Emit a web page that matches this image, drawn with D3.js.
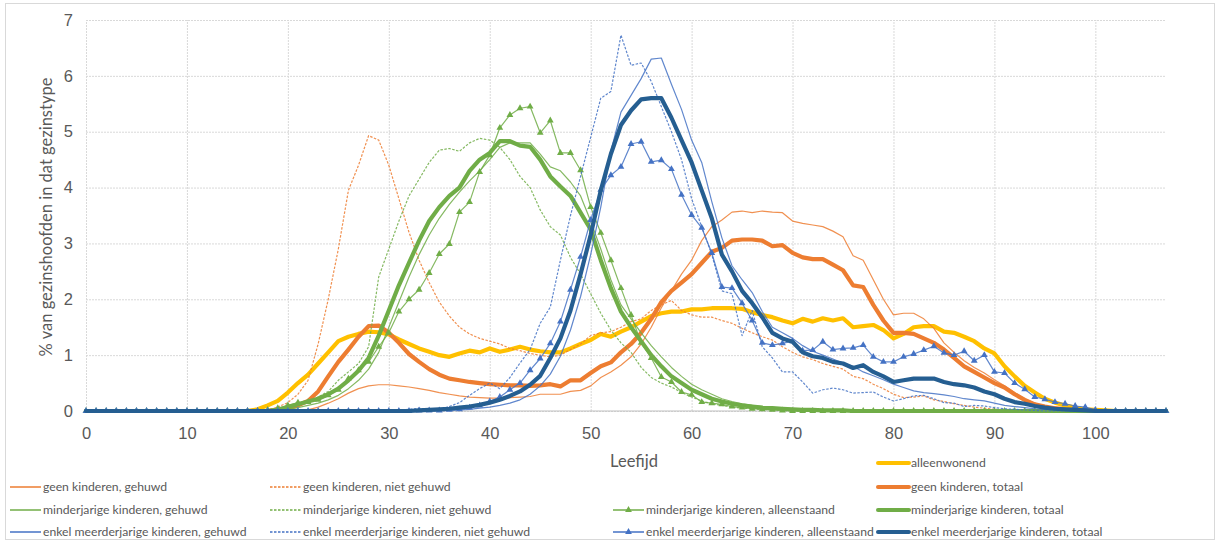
<!DOCTYPE html>
<html><head><meta charset="utf-8">
<script src="https://cdn.jsdelivr.net/npm/d3@7"></script>
<style>
body{margin:0;background:#fff;}
svg{display:block;font-family:Lato,"Liberation Sans",sans-serif;}
</style>
</head><body>
<svg id="chart" width="1220" height="543"></svg>
<script>
// ---------- data ----------
const ages = [0,1,2,3,4,5,6,7,8,9,10,11,12,13,14,15,16,17,18,19,20,21,22,23,24,25,26,27,28,29,30,31,32,33,34,35,36,37,38,39,40,41,42,43,44,45,46,47,48,49,50,51,52,53,54,55,56,57,58,59,60,61,62,63,64,65,66,67,68,69,70,71,72,73,74,75,76,77,78,79,80,81,82,83,84,85,86,87,88,89,90,91,92,93,94,95,96,97,98,99,100,101,102,103,104,105,106,107];
const xTicks = [0,10,20,30,40,50,60,70,80,90,100];
const yTicks = [0,1,2,3,4,5,6,7];

const alleenwonend = [
0,0,0,0,0,0,0,0,0,0,
0,0,0,0,0,0,0,0.03,0.1,0.18,
0.33,0.5,0.65,0.85,1.05,1.25,1.33,1.38,1.42,1.41,
1.37,1.28,1.2,1.12,1.06,1.0,0.97,1.03,1.08,1.05,
1.12,1.06,1.1,1.15,1.1,1.07,1.05,1.05,1.12,1.2,
1.27,1.38,1.33,1.42,1.5,1.6,1.7,1.75,1.78,1.78,
1.82,1.82,1.84,1.84,1.84,1.83,1.77,1.72,1.68,1.62,
1.57,1.65,1.6,1.66,1.62,1.66,1.5,1.52,1.54,1.45,
1.3,1.38,1.5,1.52,1.52,1.42,1.4,1.33,1.25,1.12,
1.03,0.8,0.62,0.45,0.33,0.22,0.15,0.1,0.06,0.03,
0.02,0.01,0,0,0,0,0,0];

const geenGehuwd = [
0,0,0,0,0,0,0,0,0,0,
0,0,0,0,0,0,0,0,0,0,
0,0,0.02,0.07,0.14,0.22,0.32,0.4,0.45,0.47,
0.47,0.45,0.43,0.4,0.37,0.33,0.3,0.27,0.25,0.24,
0.23,0.23,0.24,0.25,0.26,0.3,0.3,0.3,0.35,0.37,
0.45,0.6,0.7,0.82,0.97,1.2,1.5,1.85,2.15,2.45,
2.7,3.05,3.3,3.42,3.56,3.58,3.55,3.58,3.56,3.55,
3.4,3.36,3.33,3.3,3.22,3.12,2.78,2.7,2.35,2.0,
1.72,1.75,1.75,1.65,1.48,1.22,1.05,0.9,0.78,0.68,
0.56,0.45,0.33,0.22,0.14,0.08,0.05,0.02,0.01,0,
0,0,0,0,0,0,0,0];

const geenNietGehuwd = [
0,0,0,0,0,0,0,0,0,0,
0,0,0,0,0,0,0,0,0.02,0.07,
0.15,0.3,0.55,1.2,2.0,2.9,3.95,4.4,4.93,4.85,
4.4,3.8,3.2,2.7,2.3,1.95,1.7,1.5,1.38,1.3,
1.25,1.2,1.12,1.08,1.03,1.0,0.97,1.0,1.1,1.2,
1.35,1.4,1.42,1.5,1.6,1.65,1.8,1.9,1.98,1.8,
1.72,1.68,1.68,1.62,1.57,1.48,1.4,1.33,1.27,1.15,
1.05,0.97,0.92,0.85,0.8,0.75,0.62,0.58,0.48,0.4,
0.3,0.24,0.25,0.27,0.2,0.17,0.13,0.1,0.07,0.05,
0.03,0.02,0.01,0,0,0,0,0,0,0,
0,0,0,0,0,0,0,0];

const geenTotaal = [
0,0,0,0,0,0,0,0,0,0,
0,0,0,0,0,0,0,0,0,0.02,
0.05,0.1,0.18,0.35,0.62,0.88,1.1,1.33,1.52,1.53,
1.4,1.22,1.02,0.88,0.75,0.65,0.58,0.55,0.52,0.5,
0.48,0.47,0.46,0.46,0.45,0.46,0.48,0.44,0.55,0.55,
0.68,0.8,0.87,1.05,1.2,1.4,1.65,1.95,2.15,2.3,
2.45,2.65,2.85,2.92,3.05,3.07,3.07,3.05,2.95,2.97,
2.83,2.75,2.72,2.72,2.62,2.52,2.25,2.22,1.9,1.62,
1.4,1.4,1.38,1.3,1.22,1.1,0.95,0.8,0.7,0.6,
0.5,0.42,0.3,0.2,0.12,0.08,0.05,0.03,0.02,0.01,
0,0,0,0,0,0,0,0];

const minGehuwd = [
0,0,0,0,0,0,0,0,0,0,
0,0,0,0,0,0,0,0,0,0.01,
0.03,0.06,0.1,0.14,0.2,0.28,0.4,0.55,0.75,1.05,
1.5,1.95,2.4,2.8,3.15,3.45,3.7,3.92,4.12,4.3,
4.5,4.72,4.8,4.8,4.8,4.6,4.37,4.3,4.1,3.85,
3.4,2.9,2.35,1.9,1.65,1.4,1.17,0.97,0.78,0.62,
0.48,0.38,0.3,0.22,0.17,0.13,0.1,0.08,0.06,0.05,
0.04,0.03,0.02,0.02,0.01,0.01,0.01,0,0,0,
0,0,0,0,0,0,0,0,0,0,
0,0,0,0,0,0,0,0,0,0,
0,0,0,0,0,0,0,0];

const minNietGehuwd = [
0,0,0,0,0,0,0,0,0,0,
0,0,0,0,0,0,0,0,0,0.02,
0.05,0.1,0.17,0.25,0.35,0.55,0.7,0.85,1.15,2.4,
2.9,3.4,3.85,4.15,4.45,4.67,4.7,4.65,4.8,4.88,
4.85,4.72,4.5,4.2,4.0,3.6,3.3,3.15,2.75,2.45,
2.1,1.75,1.45,1.22,1.05,0.78,0.6,0.5,0.43,0.33,
0.25,0.18,0.13,0.1,0.07,0.05,0.04,0.03,0.02,0.01,
0,0,0,0,0,0,0,0,0,0,
0,0,0,0,0,0,0,0,0,0,
0,0,0,0,0,0,0,0,0,0,
0,0,0,0,0,0,0,0];

const minAlleenstaand = [
0,0,0,0,0,0,0,0,0,0,
0,0,0,0,0,0,0,0,0.02,0.05,
0.1,0.15,0.16,0.2,0.28,0.38,0.58,0.73,0.88,1.15,
1.4,1.78,2.0,2.17,2.47,2.81,2.99,3.56,3.74,4.28,
4.58,5.07,5.3,5.42,5.45,4.98,5.2,4.62,4.62,4.31,
3.65,3.19,2.7,2.2,1.72,1.22,0.95,0.61,0.52,0.34,
0.29,0.16,0.14,0.12,0.08,0.06,0.04,0.03,0.02,0.01,
0,0,0,0,0,0,0,0,0,0,
0,0,0,0,0,0,0,0,0,0,
0,0,0,0,0,0,0,0,0,0,
0,0,0,0,0,0,0,0];

const minTotaal = [
0,0,0,0,0,0,0,0,0,0,
0,0,0,0,0,0,0,0,0,0.02,
0.07,0.12,0.17,0.22,0.3,0.4,0.55,0.72,0.95,1.35,
1.8,2.25,2.65,3.05,3.4,3.65,3.85,4.0,4.3,4.5,
4.62,4.83,4.83,4.75,4.73,4.5,4.2,4.02,3.85,3.55,
3.25,2.7,2.2,1.78,1.5,1.25,1.0,0.8,0.62,0.5,
0.38,0.3,0.22,0.17,0.13,0.1,0.08,0.06,0.05,0.04,
0.03,0.02,0.02,0.01,0.01,0.01,0,0,0,0,
0,0,0,0,0,0,0,0,0,0,
0,0,0,0,0,0,0,0,0,0,
0,0,0,0,0,0,0,0];

const emGehuwd = [
0,0,0,0,0,0,0,0,0,0,
0,0,0,0,0,0,0,0,0,0,
0,0,0,0,0,0,0,0,0,0,
0,0,0,0,0,0,0.01,0.02,0.03,0.05,
0.07,0.1,0.14,0.2,0.3,0.45,0.66,0.98,1.45,2.05,
2.8,3.65,4.65,5.35,5.65,5.95,6.3,6.32,5.85,5.4,
4.85,4.45,3.75,3.1,2.6,2.35,2.12,1.78,1.5,1.4,
1.3,1.17,1.07,1.0,0.93,0.86,0.8,0.7,0.63,0.56,
0.48,0.42,0.36,0.33,0.31,0.29,0.26,0.22,0.2,0.18,
0.14,0.1,0.08,0.06,0.04,0.03,0.02,0.01,0,0,
0,0,0,0,0,0,0,0];

const emNietGehuwd = [
0,0,0,0,0,0,0,0,0,0,
0,0,0,0,0,0,0,0,0,0,
0,0,0,0,0,0,0,0,0,0,
0,0.01,0.03,0.05,0.03,0.03,0.08,0.15,0.28,0.4,
0.5,0.4,0.6,0.86,1.1,1.57,1.86,2.7,3.5,4.2,
4.9,5.6,5.72,6.73,6.19,6.23,5.9,5.45,5.0,4.5,
3.8,3.3,2.8,2.15,2.1,1.35,1.8,1.15,0.95,0.7,
0.7,0.52,0.32,0.38,0.41,0.38,0.32,0.33,0.34,0.25,
0.18,0.22,0.27,0.28,0.22,0.15,0.14,0.08,0.1,0.09,
0.06,0.04,0.03,0.02,0.01,0,0,0,0,0,
0,0,0,0,0,0,0,0];

const emAlleenstaand = [
0,0,0,0,0,0,0,0,0,0,
0,0,0,0,0,0,0,0,0,0,
0,0,0,0,0,0,0,0,0,0,
0,0,0,0.01,0.01,0.01,0.02,0.03,0.06,0.1,
0.17,0.25,0.38,0.5,0.73,0.94,1.21,1.6,2.17,2.76,
3.42,3.96,4.22,4.37,4.78,4.82,4.46,4.49,4.33,3.87,
3.51,3.28,2.83,2.22,2.2,1.93,1.62,1.22,1.18,1.21,
1.25,1.08,1.09,1.24,1.1,1.12,1.13,1.18,0.97,0.88,
0.88,0.97,1.02,1.09,1.16,1.04,1.0,1.07,0.9,1.0,
0.7,0.68,0.5,0.39,0.25,0.21,0.16,0.13,0.09,0.07,
0.02,0,0,0,0,0,0,0];

const emTotaal = [
0,0,0,0,0,0,0,0,0,0,
0,0,0,0,0,0,0,0,0,0,
0,0,0,0,0,0,0,0,0,0,
0,0,0,0.01,0.02,0.03,0.04,0.06,0.08,0.11,
0.15,0.2,0.27,0.35,0.47,0.63,0.95,1.3,1.8,2.45,
3.15,3.95,4.6,5.12,5.38,5.58,5.6,5.6,5.25,4.85,
4.45,3.95,3.45,2.8,2.5,2.15,1.93,1.68,1.4,1.3,
1.24,1.05,0.98,0.95,0.88,0.85,0.77,0.82,0.7,0.62,
0.52,0.55,0.58,0.58,0.58,0.52,0.48,0.46,0.42,0.35,
0.3,0.22,0.16,0.13,0.09,0.06,0.04,0.03,0.02,0.01,
0,0,0,0,0,0,0,0];

// ---------- series configuration (draw order) ----------
const ORANGE = "#ED7D31", GREEN = "#70AD47", BLUE = "#4472C4", DARKBLUE = "#255E91", YELLOW = "#FFC000";
const series = [
  {name:"alleenwonend", values:alleenwonend, color:YELLOW, w:4.2, dash:null, marker:false, row:0, col:3},
  {name:"geen kinderen, gehuwd", values:geenGehuwd, color:ORANGE, w:1.2, dash:null, marker:false, row:1, col:0},
  {name:"geen kinderen, niet gehuwd", values:geenNietGehuwd, color:ORANGE, w:1.2, dash:"2.5,1.5", marker:false, row:1, col:1},
  {name:"geen kinderen, totaal", values:geenTotaal, color:ORANGE, w:4.2, dash:null, marker:false, row:1, col:3},
  {name:"minderjarige kinderen, gehuwd", values:minGehuwd, color:GREEN, w:1.2, dash:null, marker:false, row:2, col:0},
  {name:"minderjarige kinderen, niet gehuwd", values:minNietGehuwd, color:GREEN, w:1.2, dash:"2.5,1.5", marker:false, row:2, col:1},
  {name:"minderjarige kinderen, alleenstaand", values:minAlleenstaand, color:GREEN, w:1.2, dash:null, marker:true, row:2, col:2},
  {name:"minderjarige kinderen, totaal", values:minTotaal, color:GREEN, w:4.2, dash:null, marker:false, row:2, col:3},
  {name:"enkel meerderjarige kinderen, gehuwd", values:emGehuwd, color:BLUE, w:1.2, dash:null, marker:false, row:3, col:0},
  {name:"enkel meerderjarige kinderen, niet gehuwd", values:emNietGehuwd, color:BLUE, w:1.2, dash:"2.5,1.5", marker:false, row:3, col:1},
  {name:"enkel meerderjarige kinderen, alleenstaand", values:emAlleenstaand, color:BLUE, w:1.2, dash:null, marker:true, row:3, col:2},
  {name:"enkel meerderjarige kinderen, totaal", values:emTotaal, color:DARKBLUE, w:4.2, dash:null, marker:false, row:3, col:3}
];

// ---------- layout ----------
const svg = d3.select("#chart");
const plot = {left:86, top:20, right:1166, bottom:411};
const x = d3.scaleLinear().domain([0,107]).range([plot.left, plot.right]);
const y = d3.scaleLinear().domain([0,7]).range([plot.bottom, plot.top]);
const textColor = "#595959";

svg.append("rect").attr("x",5.5).attr("y",3.5).attr("width",1209).attr("height",536)
  .attr("fill","#fff").attr("stroke","#D9D9D9").attr("stroke-width",1);

// y axis with horizontal gridlines
const yAxis = svg.append("g").attr("transform",`translate(${plot.left},0)`)
  .call(d3.axisLeft(y).tickValues(yTicks).tickSize(-(plot.right-plot.left)).tickPadding(13).tickFormat(d3.format("d")));
yAxis.select(".domain").remove();
yAxis.selectAll(".tick line").attr("stroke","#D9D9D9").attr("stroke-dasharray","2,1");
yAxis.selectAll(".tick text").attr("fill",textColor).style("font-size","16.5px");

// x axis with vertical gridlines
const xAxis = svg.append("g").attr("transform",`translate(0,${plot.bottom})`)
  .call(d3.axisBottom(x).tickValues(xTicks).tickSize(-(plot.bottom-plot.top)).tickPadding(16).tickFormat(d3.format("d")));
xAxis.select(".domain").remove();
xAxis.selectAll(".tick line").attr("stroke","#D9D9D9").attr("stroke-dasharray","2,1");
xAxis.selectAll(".tick text").attr("fill",textColor).style("font-size","16.5px");

// axis line at y = 0
svg.append("line").attr("x1",plot.left).attr("x2",plot.right).attr("y1",y(0)).attr("y2",y(0))
  .attr("stroke","#BFBFBF");

// axis titles
svg.append("text").attr("x",634).attr("y",467).attr("text-anchor","middle")
  .attr("fill",textColor).style("font-size","16.5px").text("Leefijd");
svg.append("text").attr("transform","translate(52,217) rotate(-90)").attr("text-anchor","middle")
  .attr("fill",textColor).style("font-size","16.5px").text("% van gezinshoofden in dat gezinstype");

// ---------- series ----------
const line = d3.line().x((d,i)=>x(ages[i])).y(d=>y(d)).curve(d3.curveLinear);
const tri = d3.symbol().type(d3.symbolTriangle).size(20);
const gSeries = svg.append("g");
series.forEach(s=>{
  const g = gSeries.append("g");
  g.append("path").datum(s.values).attr("d",line)
    .attr("fill","none").attr("stroke",s.color).attr("stroke-width",s.w)
    .attr("stroke-linejoin","round").attr("stroke-linecap", s.w>2 ? "round":"butt")
    .attr("stroke-dasharray",s.dash).attr("opacity", s.w>2 ? 1 : 0.85);
  if (s.marker){
    g.selectAll("path.m").data(s.values).enter().append("path").attr("class","m")
      .attr("d",tri).attr("transform",(d,i)=>`translate(${x(ages[i])},${y(d)})`)
      .attr("fill",s.color).attr("stroke","none");
  }
});

// ---------- legend ----------
const colX = [10, 270, 613, 878];
const rowY = [463, 487, 510, 532];
const legLen = 31;
const lg = svg.append("g").style("font-size","12.2px");
series.forEach(s=>{
  const x0 = colX[s.col], yy = rowY[s.row];
  const item = lg.append("g");
  item.append("line").attr("x1",x0).attr("x2",x0+legLen).attr("y1",yy).attr("y2",yy)
    .attr("stroke",s.color).attr("stroke-width", s.w>2 ? 4 : 1.5)
    .attr("stroke-dasharray",s.dash).attr("stroke-linecap", s.w>2 ? "round":"butt");
  if (s.marker){
    item.append("path").attr("d",tri).attr("transform",`translate(${x0+legLen/2},${yy})`).attr("fill",s.color);
  }
  item.append("text").attr("x",x0+legLen+2).attr("y",yy).attr("dy","0.35em")
    .attr("fill",textColor).text(s.name);
});
</script>
</body></html>
